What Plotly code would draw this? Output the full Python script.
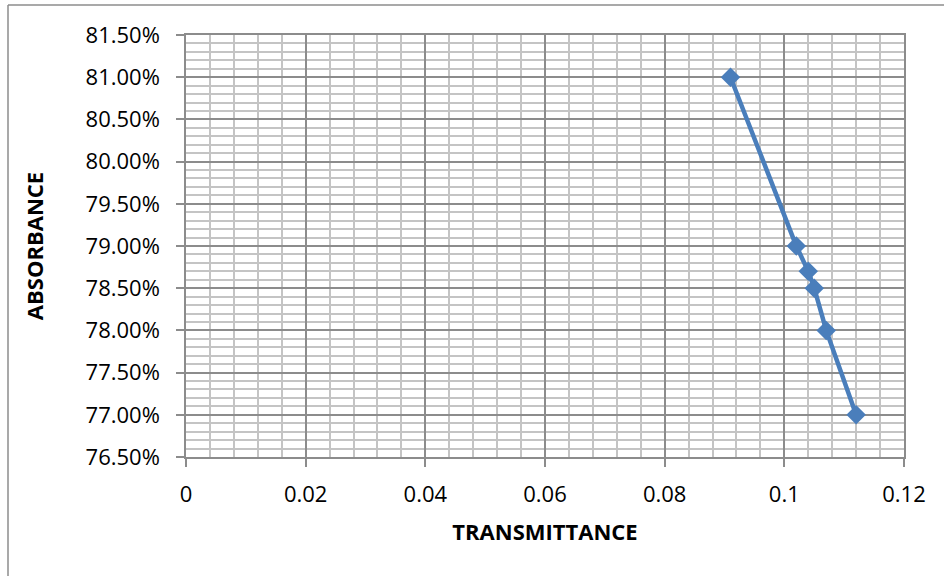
import plotly.graph_objects as go

transmittance = [0.091, 0.102, 0.104, 0.105, 0.107, 0.112]
absorbance = [0.81, 0.79, 0.787, 0.785, 0.78, 0.77]

x_title = "TRANSMITTANCE"
y_title = "ABSORBANCE"

W, H = 944, 576
L, R, T, B = 186, 40, 35, 119
pw, ph = W - L - R, H - T - B

def px_x(p):
    return (p - L) / pw

def px_y(p):
    return (H - B - p) / ph

font = "Open Sans, Liberation Sans, sans-serif"
line_blue = "#4a7ebb"

fig = go.Figure()
fig.add_trace(go.Scatter(
    x=transmittance, y=absorbance, mode="lines+markers",
    line=dict(color=line_blue, width=4.5),
    marker=dict(symbol="diamond", size=15, color=line_blue),
    showlegend=False, cliponaxis=False,
))

axis_common = dict(
    showgrid=True, gridcolor="#8c8c8c", gridwidth=1.5,
    showline=True, linecolor="#8c8c8c", linewidth=1.5, mirror=True,
    ticks="outside", ticklen=8, tickcolor="#8c8c8c", tickwidth=1.5,
    tickfont=dict(family=font, size=22, color="#000000"),
    zeroline=False,
)

fig.update_xaxes(
    range=[0, 0.12], dtick=0.02, tick0=0,
    minor=dict(dtick=0.004, showgrid=True, gridcolor="#c4c4c4", gridwidth=1.5, ticks=""),
    title=dict(text=x_title, font=dict(family=font, size=22, color="#000000", weight="bold"), standoff=17),
    ticklabelstandoff=9,
    **axis_common,
)
fig.update_yaxes(
    range=[0.765, 0.815], dtick=0.005, tick0=0.765, tickformat=".2%",
    minor=dict(dtick=0.001, showgrid=True, gridcolor="#c4c4c4", gridwidth=1.5, ticks=""),
    title=dict(text=y_title, font=dict(family=font, size=22, color="#000000", weight="bold"), standoff=36),
    ticklabelstandoff=12,
    **axis_common,
)

fig.add_shape(type="line", xref="paper", yref="paper",
              x0=px_x(8), x1=px_x(8), y0=px_y(5), y1=px_y(620),
              line=dict(color="#8c8c8c", width=1.5))
fig.add_shape(type="line", xref="paper", yref="paper",
              x0=px_x(8), x1=px_x(980), y0=px_y(5), y1=px_y(5),
              line=dict(color="#8c8c8c", width=1.5))

fig.update_layout(
    width=W, height=H,
    margin=dict(l=L, r=R, t=T, b=B, autoexpand=False),
    paper_bgcolor="white", plot_bgcolor="white",
)

fig.write_html("out.html")
